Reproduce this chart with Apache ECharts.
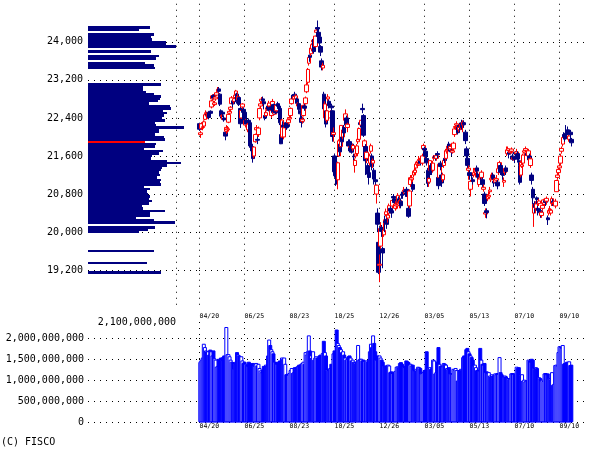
<!DOCTYPE html>
<html><head><meta charset="utf-8">
<script src="https://cdn.jsdelivr.net/npm/echarts@6/dist/echarts.min.js"></script>
<style>html,body{margin:0;padding:0;background:#fff}#c{width:589px;height:449px}</style>
</head><body><div id="c"></div>
<script>
// ---- tick labels (one every 42 sessions) ----
const tickLabels = ['04/20','06/25','08/23','10/25','12/26','03/05','05/13','07/10','09/10'];

// ---- daily candles (open / close / low / high) ----
const opens = [
22280,22050,22180,22200,22230,22370,22500,22470,22430,22510,
22540,22630,22800,22870,22680,22800,22880,22960,23010,22900,
22550,22430,22520,22400,22100,22120,22150,22310,22500,22580,
22700,22760,22750,22830,22900,22900,22780,22830,22600,22400,
22630,22580,22520,22250,22350,22150,22350,22300,21850,21800,
21750,21600,21900,22150,21950,22050,22400,22650,22750,22800,
22740,22450,22450,22580,22650,22650,22620,22450,22650,22680,
22480,22560,22550,22700,22650,22600,22050,22000,22250,22000,
22250,22300,22250,22300,22380,22450,22700,22880,22800,22900,
22800,22800,22650,22700,22550,22400,22330,22450,22650,22700,
22950,23150,23550,23720,23750,23850,24000,24050,23900,24200,
24300,24200,24100,23900,23600,23450,22900,22400,22550,22350,
22800,22750,22400,22650,22550,22050,21600,21350,21300,21100,
21600,21850,21800,22000,22000,22200,22350,22400,22200,21900,
21900,21780,21850,21750,21600,21400,21600,21650,21900,21950,
22300,22250,22600,22450,21800,21800,21550,21400,21250,21450,
21700,21600,21450,21300,21100,20800,20400,19785,19302,19706,
20100,19655,19944,20224,20366,20270,20296,20400,20500,20450,
20550,20750,20700,20500,20550,20650,20700,20600,20650,20800,
20820,20850,20870,20900,20800,20500,20550,21000,21100,21000,
21200,21250,21350,21430,21400,21500,21500,21500,21450,21750,
21760,21700,21550,21300,21050,21300,21400,21350,21300,21550,
21600,21550,21650,21150,21150,21450,21200,21100,21400,21550,
21550,21700,21750,21850,21750,21720,21680,21750,22050,22200,
22250,22200,22150,22250,22200,22300,22250,22300,22100,21750,
21550,21300,21250,20900,21200,21100,21200,21250,21240,21350,
21200,21000,21220,21150,21100,20900,20800,20380,20450,20700,
20740,20850,21100,21150,21200,21070,21050,21090,21050,21250,
21350,21400,21320,21250,21050,21250,21350,21650,21720,21680,
21670,21700,21600,21530,21580,21680,21650,21650,21500,21400,
21200,21380,21450,21680,21720,21620,21650,21600,21600,21400,
21200,20900,20400,20600,20500,20720,20500,20600,20450,20350,
20500,20600,20580,20660,20650,20300,20400,20440,20400,20600,
20650,20590,20550,20850,21150,21250,21350,21450,21700,21850,
22050,22000,22080,22120,22150,21950,22100,21950];
const closes = [
22162,22088,22278,22215,22319,22467,22508,22467,22509,22409,
22497,22758,22865,22818,22717,22838,22930,23002,22960,22689,
22437,22450,22481,22358,22018,22201,22171,22475,22539,22625,
22823,22694,22804,22878,22966,22738,22851,22680,22278,22555,
22693,22516,22338,22342,22271,22270,22304,21811,21785,21717,
21546,21788,22052,22196,21932,22187,22597,22697,22794,22764,
22697,22396,22510,22614,22586,22712,22544,22553,22746,22512,
22525,22507,22662,22644,22598,22298,21857,22356,22204,22192,
22270,22199,22219,22362,22410,22601,22799,22813,22848,22869,
22865,22707,22696,22580,22487,22307,22373,22664,22604,22821,
23094,23420,23672,23674,23869,23940,24033,23796,24120,24245,
24270,24110,23975,23783,23469,23506,22590,22694,22271,22549,
22841,22658,22532,22614,22010,22091,21268,21184,21149,21457,
21920,21687,22243,21898,22147,22085,22486,22250,22269,21810,
21846,21803,21680,21821,21583,21507,21646,21812,21952,22177,
22262,22351,22574,22036,21919,21501,21679,21219,21148,21602,
21816,21375,21506,21115,21061,20987,20166,19155,19327,20077,
20015,19561,20038,20204,20427,20163,20359,20555,20442,20402,
20666,20719,20622,20593,20574,20773,20649,20664,20556,20773,
20788,20883,20844,20874,20751,20333,20864,21144,21139,20900,
21281,21302,21431,21464,21425,21528,21449,21556,21602,21822,
21726,21596,21456,21025,21125,21503,21290,21287,21450,21584,
21566,21608,21627,20977,21428,21378,21033,21205,21509,21505,
21713,21724,21807,21761,21802,21687,21711,21870,22169,22221,
22277,22090,22200,22217,22259,22200,22307,22258,21923,21602,
21402,21344,21191,21067,21188,21062,21250,21301,21272,21283,
21151,21117,21182,21260,21003,20942,20601,20410,20408,20776,
20774,20884,21134,21204,21129,21032,21116,21124,20972,21333,
21462,21258,21285,21193,21086,21338,21275,21729,21754,21638,
21702,21746,21534,21565,21533,21643,21685,21535,21469,21046,
21466,21416,21620,21709,21756,21658,21616,21709,21521,21540,
21087,20720,20585,20516,20593,20684,20455,20655,20405,20418,
20563,20677,20618,20628,20710,20261,20456,20479,20460,20704,
20620,20625,20649,21085,21199,21318,21392,21597,21759,21988,
22001,21960,22044,22079,22098,22020,22048,21878];
const lows = [
22130,21980,22150,22140,22200,22350,22430,22420,22380,22370,
22460,22600,22760,22790,22650,22760,22860,22950,22930,22650,
22390,22360,22420,22320,21930,22060,22090,22290,22470,22530,
22690,22620,22700,22800,22870,22700,22720,22650,22190,22380,
22580,22450,22300,22200,22240,22100,22240,21780,21700,21650,
21460,21550,21880,22100,21850,22000,22350,22600,22700,22700,
22580,22350,22420,22540,22550,22620,22500,22400,22620,22460,
22460,22480,22530,22600,22500,22250,21850,21980,22150,21950,
22180,22150,22180,22260,22350,22400,22680,22790,22750,22820,
22740,22660,22600,22520,22400,22200,22280,22430,22550,22680,
22920,23100,23500,23580,23700,23800,23950,23750,23880,24150,
24200,24050,23900,23700,23400,23400,22500,22330,22200,22300,
22750,22600,22350,22550,21900,21900,21200,20971,21000,20900,
21580,21600,21780,21800,21950,21950,22330,22200,22100,21700,
21750,21700,21650,21700,21450,21250,21550,21600,21850,21930,
22200,22200,22500,22000,21700,21200,21450,21200,21000,21400,
21650,21300,21350,21000,20950,20600,20000,19117,18948,19650,
19900,19241,19900,20000,20331,20069,20200,20350,20400,20300,
20500,20650,20550,20450,20480,20600,20600,20500,20500,20700,
20700,20800,20750,20800,20700,20300,20500,20950,21000,20850,
21150,21200,21300,21380,21350,21450,21400,21450,21400,21700,
21650,21550,21400,20950,20950,21280,21200,21200,21250,21500,
21500,21500,21550,20900,21100,21300,20950,21050,21350,21450,
21500,21650,21700,21700,21700,21600,21650,21700,22000,22150,
22200,22050,22100,22150,22150,22150,22100,22200,21850,21550,
21300,21100,21100,20750,21100,21000,21150,21200,21150,21200,
21050,20950,21100,21100,20950,20850,20550,20300,20289,20650,
20700,20800,21050,21100,21100,20950,21000,21050,20900,21200,
21300,21200,21200,21100,20950,21200,21200,21600,21700,21550,
21650,21650,21500,21500,21450,21580,21600,21500,21400,21000,
21150,21350,21400,21650,21700,21600,21550,21550,21450,21350,
21000,20500,20110,20400,20450,20600,20350,20550,20300,20300,
20450,20550,20550,20550,20600,20150,20350,20400,20350,20550,
20550,20550,20500,20850,21100,21200,21300,21400,21650,21800,
21950,21900,21950,22000,22050,21900,21950,21800];
const highs = [
22300,22130,22310,22290,22350,22500,22560,22530,22530,22520,
22560,22780,22900,22900,22760,22880,22970,23050,23050,22920,
22580,22500,22530,22450,22140,22250,22230,22500,22580,22650,
22860,22800,22830,22930,22990,22930,22900,22850,22640,22580,
22710,22620,22560,22380,22400,22300,22390,22310,21900,21830,
21780,21800,22070,22250,22010,22220,22620,22750,22840,22850,
22760,22520,22560,22650,22680,22760,22660,22580,22800,22700,
22570,22620,22700,22740,22660,22620,22080,22380,22330,22220,
22300,22330,22300,22400,22450,22620,22820,22900,22880,22950,
22900,22830,22730,22720,22590,22450,22430,22680,22720,22850,
23150,23450,23700,23730,23900,23970,24060,24070,24130,24300,
24448,24290,24150,23930,23650,23560,22950,22750,22560,22600,
22900,22790,22560,22700,22560,22200,21650,21400,21350,21480,
21950,21900,22250,22050,22200,22250,22580,22450,22300,21950,
21950,21850,21900,21860,21650,21550,21700,21850,22000,22200,
22350,22400,22700,22480,21950,21850,21700,21450,21300,21650,
21860,21650,21550,21350,21200,21000,20500,19785,19530,20211,
20150,19692,20266,20347,20494,20300,20389,20600,20560,20500,
20700,20800,20750,20650,20620,20820,20750,20700,20700,20850,
20850,20950,20900,20950,20850,20550,20900,21200,21200,21050,
21300,21350,21480,21500,21480,21600,21550,21600,21650,21860,
21800,21750,21600,21350,21150,21520,21450,21400,21500,21620,
21650,21650,21700,21200,21450,21500,21250,21250,21550,21600,
21750,21780,21850,21900,21850,21750,21750,21900,22200,22280,
22330,22250,22250,22300,22300,22362,22350,22350,22150,21800,
21600,21400,21300,21100,21250,21150,21350,21350,21300,21400,
21250,21150,21250,21300,21150,21000,20850,20500,20500,20800,
20850,20950,21200,21250,21250,21100,21150,21200,21100,21400,
21500,21450,21350,21300,21150,21350,21400,21800,21800,21700,
21750,21780,21650,21600,21600,21700,21750,21700,21550,21400,
21500,21500,21650,21750,21800,21700,21700,21750,21650,21580,
21250,20950,20600,20650,20650,20750,20550,20700,20500,20450,
20600,20700,20700,20700,20750,20350,20500,20550,20500,20750,
20700,20650,20700,21100,21250,21350,21450,21650,21800,22050,
22100,22050,22250,22150,22220,22050,22150,21980];

// ---- daily volume, millions of shares ----
const volumes = [
1440,1460,1500,1550,1880,1800,1720,1700,1700,1620,
1740,1700,1600,1720,1530,1500,1330,1350,1520,1500,
1550,1500,1560,1600,1560,2280,1630,1630,1580,1500,
1450,1440,1280,1400,1450,1680,1620,1600,1500,1580,
1480,1420,1450,1400,1380,1350,1450,1420,1400,1380,
1420,1350,1400,1420,1360,1400,1300,1240,1200,1260,
1350,1320,1380,1360,1600,1980,1850,1750,1700,1650,
1450,1440,1400,1450,1350,1480,1400,1550,1520,1550,
1400,1150,1160,1140,1180,1250,1300,1180,1200,1320,
1280,1330,1350,1380,1360,1400,1420,1450,1400,1680,
1620,1700,2080,1720,1600,1550,1700,1500,1550,1580,
1550,1520,1600,1620,1580,1660,1950,1680,1600,1260,
1250,1280,1300,1400,1350,1650,1720,1700,2220,1900,
1850,1800,1750,1680,1700,1620,1550,1500,1520,1580,
1600,1550,1480,1500,1450,1440,1420,1460,1850,1500,
1520,1520,1480,1500,1460,1440,1480,1450,1500,1700,
1880,1800,2080,1900,1700,1500,1600,1550,1600,1550,
1500,1450,1350,1340,1360,1360,1380,1360,1200,1220,
1180,1200,1210,1230,1330,1340,1320,1420,1440,1400,
1330,1320,1350,1480,1460,1440,1380,1400,1360,1380,
1250,1240,1280,1250,1330,1320,1300,1170,1180,1200,
1250,1260,1700,1280,1300,1320,1280,1300,1500,1480,
1170,1200,1450,1800,1400,1350,1360,1340,1420,1400,
1380,1300,1280,1320,1170,1180,1160,1280,1260,1300,
1250,1000,1250,1250,1280,1260,1560,1600,1580,1750,
1780,1700,1650,1600,1560,1500,1350,1380,1320,1250,
1260,1240,1780,1500,1400,1380,1420,1200,1220,1180,
1200,1120,1100,1150,1120,1130,1170,1150,1180,1160,
1560,1200,1150,1100,1080,1120,1100,1050,1060,1040,
1050,1170,1180,1160,1170,1150,1330,1300,1320,1140,
1130,1150,1000,1020,980,1000,1010,1500,1480,1450,
1520,1500,1300,1280,1320,1300,1050,1080,1060,1000,
1020,990,1170,1180,1150,1170,1050,1060,1040,1200,
900,920,1370,1380,1360,1680,1820,1800,1780,1850,
1400,1420,1380,1450,1440,1460,1370,1380];

// ---- volume-by-price histogram (bin centre price, volume in millions) ----
const histPrices = [
24300,24250,24150,24100,24050,24000,23950,23900,23800,23700,
23650,23550,23500,23450,23100,23050,23000,22950,22900,22850,
22800,22750,22700,22650,22600,22550,22500,22450,22400,22350,
22300,22250,22200,22150,22100,22050,22000,21950,21900,21850,
21800,21750,21700,21650,21600,21550,21500,21450,21400,21350,
21300,21250,21200,21150,21100,21050,21000,20950,20900,20850,
20800,20750,20700,20650,20600,20550,20500,20450,20400,20350,
20300,20250,20200,20100,20050,20000,19600,19350,19150];
const histVolumes = [
1479,1217,1575,1503,1527,1861,1861,2100,1503,1694,
1623,1360,1575,1599,1742,1312,1312,1384,1575,1742,
1718,1670,1456,1957,1981,1790,1885,1814,1766,1837,
1599,1623,2291,1694,1694,1599,1814,1837,1360,1623,
1599,1336,1790,1694,1527,1503,1885,2219,1885,1766,
1742,1694,1718,1646,1742,1718,1742,1336,1479,1408,
1432,1479,1456,1527,1456,1288,1312,1837,1479,1479,
1145,1575,2076,1599,1432,1217,1575,1408,1742];

// ---- layout / style ----
const HIST_BIN = 50;          // yen per histogram bin
const SLOTS = 364;            // category slots across the chart width
const TICK_STEP = 42;         // sessions between date grid lines
const MONO = '"DejaVu Sans Mono", "Liberation Mono", monospace';
const NAVY = '#000080', RED = '#ff0000', BLUE = '#0000ff';
const dotted = {color:'#000', width:1, type:[1,5]};

const fmt = v => Math.round(v).toLocaleString('en-US');
const cats = Array.from({length: SLOTS}, (_, i) => String(i));
const candleData = opens.map((o, i) => [o, closes[i], lows[i], highs[i]]);
const volData = volumes.map((v, i) => ({
  value: v,
  itemStyle: closes[i] > opens[i]
    ? {color:'#ffffff', borderColor: BLUE, borderWidth: 1}
    : {color: BLUE, borderColor: BLUE, borderWidth: 1}
}));
const lastClose = closes[closes.length - 1];
let curBin = 0;
histPrices.forEach((p, i) => { if (Math.abs(p - lastClose) < Math.abs(histPrices[curBin] - lastClose)) curBin = i; });

const priceTop = 3.75, priceH = 304.5;
const volTop = 322, volH = 100.3;

const priceY = (show) => ({
  type:'value', min:18400, max:24800, interval:800,
  axisLine:{show:false}, axisTick:{show:false},
  axisLabel:{show:show, formatter: fmt, margin:5, color:'#000', fontFamily: MONO, fontSize:10,
             showMinLabel:false, showMaxLabel:false},
  splitLine:{show:true, lineStyle: dotted, showMinLine:false, showMaxLine:false}
});
const volY = (show) => ({
  type:'value', min:0, max:2400, interval:500,
  axisLine:{show:false}, axisTick:{show:false},
  axisLabel:{show:show, formatter: v => fmt(v * 1e6), margin:4, color:'#000', fontFamily: MONO, fontSize:10,
             showMaxLabel:false},
  splitLine:{show:true, lineStyle: dotted, showMaxLine:false}
});
const dateX = (margin) => ({
  type:'category', data: cats, boundaryGap:true,
  axisLine:{show:false}, axisTick:{show:false},
  axisLabel:{interval: TICK_STEP - 1, align:'left', margin: margin, color:'#000', fontFamily: MONO, fontSize:6.5,
             formatter: (v, idx) => (idx % TICK_STEP === 0 ? (tickLabels[idx / TICK_STEP] || '') : '')},
  splitLine:{show:true, interval: TICK_STEP - 1, lineStyle: dotted, showMaxLine:false}
});

const chart = echarts.init(document.getElementById('c'), null, {renderer:'canvas'});
chart.setOption({
  animation:false,
  backgroundColor:'#ffffff',
  textStyle:{fontFamily: MONO},
  grid:[
    {left:88, top:priceTop, width:111, height:priceH},
    {left:199, top:priceTop, right:0, height:priceH},
    {left:88, top:volTop, width:111, height:volH},
    {left:199, top:volTop, right:0, height:volH}
  ],
  xAxis:[
    {gridIndex:0, type:'value', min:0, max:2100*111/88, interval:2100,
     axisLine:{show:false}, axisTick:{show:false},
     axisLabel:{formatter: v => (v === 2100 ? fmt(v * 1e6) : ''), align:'right', margin:9,
                color:'#000', fontFamily: MONO, fontSize:10, showMinLabel:false, showMaxLabel:false},
     splitLine:{show:true, lineStyle: dotted, showMinLine:false, showMaxLine:false}},
    Object.assign({gridIndex:1}, dateX(5)),
    {gridIndex:2, type:'value', min:0, max:1, show:false},
    Object.assign({gridIndex:3}, dateX(1))
  ],
  yAxis:[
    Object.assign({gridIndex:0}, priceY(true)),
    Object.assign({gridIndex:1}, priceY(false)),
    Object.assign({gridIndex:2}, volY(true)),
    Object.assign({gridIndex:3}, volY(false))
  ],
  series:[
    {type:'custom', xAxisIndex:0, yAxisIndex:0,
     data: histPrices.map((p, i) => [histVolumes[i], p]),
     encode:{x:0, y:1},
     renderItem:(params, api) => {
       const v = api.value(0), p = api.value(1);
       const a = api.coord([0, p + HIST_BIN / 2]);
       const b = api.coord([v, p - HIST_BIN / 2]);
       const x0 = Math.round(a[0]), y0 = Math.round(a[1]);
       const x1 = Math.round(b[0]), y1 = Math.round(b[1]);
       return {type:'rect', shape:{x:x0, y:y0, width:x1-x0, height:Math.max(1, y1-y0)},
               style:{fill: params.dataIndex === curBin ? RED : NAVY}};
     }},
    {type:'candlestick', xAxisIndex:1, yAxisIndex:1, data: candleData, barWidth:4,
     itemStyle:{color:'#ffffff', color0: NAVY, borderColor: RED, borderColor0: NAVY, borderWidth:1}},
    {type:'bar', xAxisIndex:3, yAxisIndex:3, data: volData, barWidth:4}
  ],
  graphic:[
    {type:'text', left:1, top:437, style:{text:'(C) FISCO', font:'10px ' + MONO, fill:'#000'}}
  ]
});
</script>
</body></html>
